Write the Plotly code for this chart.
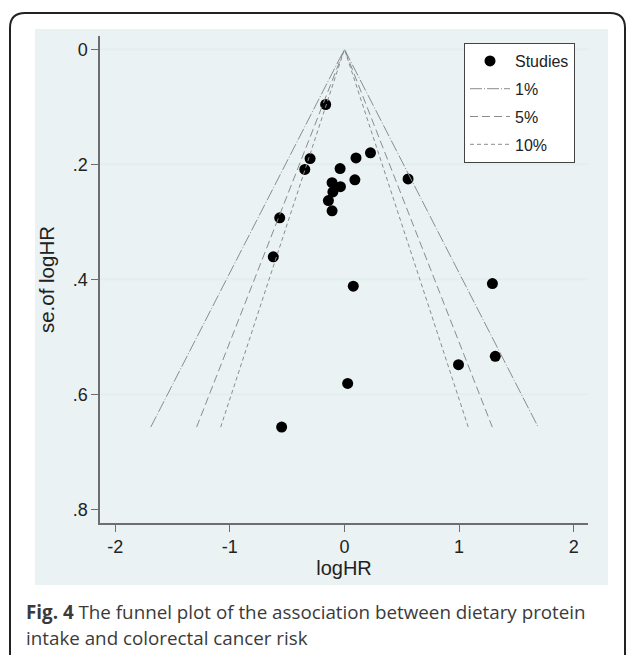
import plotly.graph_objects as go

# ---- data ----
loghr = [-0.164, -0.300, -0.346, -0.038, 0.101, 0.227, 0.091, 0.555, -0.108, -0.035,
         -0.101, -0.140, -0.108, -0.565, -0.621, 0.077, 1.291, 0.995, 1.316, 0.028, -0.548]
se_loghr = [0.096, 0.190, 0.209, 0.2075, 0.189, 0.180, 0.227, 0.2255, 0.232, 0.239,
            0.248, 0.263, 0.281, 0.293, 0.361, 0.412, 0.4075, 0.5485, 0.534, 0.581, 0.657]

contour_names = ["1%", "5%", "10%"]
contour_xend = [1.69, 1.29, 1.08]   # |logHR| where each contour ends
contour_se_end = 0.657              # se at the bottom of the funnel
contour_dash = ["12px,2px,1px,2px", "8px,4px", "4px,3px"]

xticks = [-2, -1, 0, 1, 2]
xtick_text = ["-2", "-1", "0", "1", "2"]
yticks = [0, 0.2, 0.4, 0.6, 0.8]
ytick_text = ["0", ".2", ".4", ".6", ".8"]

# ---- layout geometry (pixels) ----
W, H = 627, 655
ML, MR, MT, MB = 100, 39, 36, 132
PW, PH = W - ML - MR, H - MT - MB


def px(x):
    return (x - ML) / PW


def py(y):
    return (H - MB - y) / PH


AXC = "#6e6e6e"
FONT = "Liberation Sans, Arial, sans-serif"

fig = go.Figure()

fig.add_trace(go.Scatter(
    x=loghr, y=se_loghr, mode="markers", name="Studies",
    marker=dict(color="black", size=11, line=dict(width=0)),
    legendgroup="a"))

for name, xe, dash, g in zip(contour_names, contour_xend, contour_dash, ["b", "c", "d"]):
    fig.add_trace(go.Scatter(
        x=[-xe, 0, xe], y=[contour_se_end, 0, contour_se_end], mode="lines",
        name=name, line=dict(color="#8c8c8c", width=1, dash=dash),
        legendgroup=g))

shapes = []
# outer rounded frame
r = 15
x0, x1, y0, y1 = 10, 625, 13, 700
path = (f"M {px(x0)},{py(y1)} L {px(x0)},{py(y0 + r)} "
        f"Q {px(x0)},{py(y0)} {px(x0 + r)},{py(y0)} "
        f"L {px(x1 - r)},{py(y0)} Q {px(x1)},{py(y0)} {px(x1)},{py(y0 + r)} "
        f"L {px(x1)},{py(y1)}")
shapes.append(dict(type="path", path=path, xref="paper", yref="paper",
                   line=dict(color="#222222", width=2), layer="below"))
# graph region background
shapes.append(dict(type="rect", xref="paper", yref="paper",
                   x0=px(35), x1=px(608), y0=py(585), y1=py(29),
                   fillcolor="#EAF2F3", line=dict(width=0), layer="below"))
# grid lines
for yv in yticks[:-1]:
    shapes.append(dict(type="line", xref="paper", yref="y", x0=0, x1=1, y0=yv, y1=yv,
                       line=dict(color="#E3EEF0", width=2), layer="below"))

CAP_FONT = dict(family="Open Sans, sans-serif", size=18.8, color="#3a3a3a")
annotations = [
    dict(text="<b>Fig. 4</b> The funnel plot of the association between dietary protein",
         xref="paper", yref="paper", x=px(24), y=py(612), xanchor="left", yanchor="middle",
         showarrow=False, font=CAP_FONT),
    dict(text="intake and colorectal cancer risk",
         xref="paper", yref="paper", x=px(24), y=py(638), xanchor="left", yanchor="middle",
         showarrow=False, font=CAP_FONT),
]

fig.update_layout(
    width=W, height=H,
    margin=dict(l=ML, r=MR, t=MT, b=MB, pad=0),
    paper_bgcolor="white", plot_bgcolor="white",
    font=dict(family=FONT, size=18, color="#222222"),
    showlegend=True,
    legend=dict(x=px(464), y=py(43), xanchor="left", yanchor="top",
                bgcolor="white", bordercolor="#444444", borderwidth=1,
                font=dict(family=FONT, size=16, color="#222222"),
                tracegroupgap=4, itemwidth=40),
    shapes=shapes, annotations=annotations,
    xaxis=dict(range=[-2.133, 2.125], tickvals=xticks, ticktext=xtick_text,
               ticks="outside", ticklen=7,
               tickcolor=AXC, tickwidth=1, showline=True, linecolor=AXC, linewidth=1.5,
               showgrid=False, zeroline=False,
               title=dict(text="logHR", standoff=0, font=dict(size=20)),
               tickfont=dict(size=18)),
    yaxis=dict(range=[0.8238, -0.0231], tickvals=yticks, ticktext=ytick_text,
               ticks="outside", ticklen=7, tickcolor=AXC, tickwidth=1,
               showline=True, linecolor=AXC, linewidth=1.5, showgrid=False,
               zeroline=False,
               title=dict(text="se.of logHR", standoff=12, font=dict(size=20.5)),
               tickfont=dict(size=18)),
)

fig.write_html("out.html")
